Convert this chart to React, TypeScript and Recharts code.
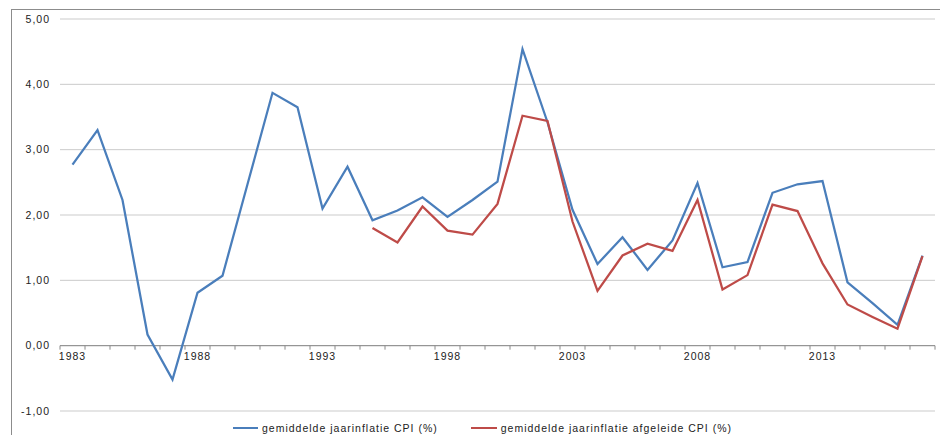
import React from 'react';
import {
    LineChart,
    Line,
    XAxis,
    YAxis,
    CartesianGrid,
    ReferenceLine,
    Legend
} from 'recharts';

const years = [
    '1983', '1984', '1985', '1986', '1987', '1988', '1989', '1990', '1991', '1992',
    '1993', '1994', '1995', '1996', '1997', '1998', '1999', '2000', '2001', '2002',
    '2003', '2004', '2005', '2006', '2007', '2008', '2009', '2010', '2011', '2012',
    '2013', '2014', '2015', '2016', '2017'
];

const cpi = [
    2.77, 3.30, 2.23, 0.17, -0.52, 0.81, 1.07, 2.47, 3.87, 3.65,
    2.10, 2.74, 1.92, 2.07, 2.27, 1.97, 2.23, 2.51, 4.54, 3.42,
    2.08, 1.25, 1.66, 1.16, 1.61, 2.49, 1.20, 1.28, 2.34, 2.47,
    2.52, 0.97, 0.65, 0.32, 1.38
];

const derivedCpi = [
    null, null, null, null, null, null, null, null, null, null,
    null, null, 1.80, 1.58, 2.13, 1.76, 1.70, 2.17, 3.52, 3.44,
    1.90, 0.84, 1.38, 1.56, 1.45, 2.23, 0.86, 1.08, 2.16, 2.06,
    1.26, 0.63, 0.44, 0.26, 1.37
];

const yTicks = [-1, 0, 1, 2, 3, 4, 5];

const cpiLabel = 'gemiddelde jaarinflatie CPI (%)';
const derivedLabel = 'gemiddelde jaarinflatie afgeleide CPI (%)';

const BLUE = '#4a7ebb';
const RED = '#be4b48';

const W = 940;
const H = 435;
const TOP = 19;
const BOTTOM = 24;
const Y_MIN = -1;
const Y_MAX = 5;
const BAND = 25;
// the category axis sits on the 0 line, as in the Excel original
const zeroY = TOP + ((H - TOP - BOTTOM) * Y_MAX) / (Y_MAX - Y_MIN);

const font = '"Liberation Sans", Arial, sans-serif';

const chartData = years.map((y, i) => ({
    year: y,
    cpi: cpi[i],
    derived: derivedCpi[i]
}));

const YearTick = (props: any) => {
    const { x, index, payload } = props;
    const last = index === years.length - 1;
    return (
        <g>
            <line x1={x - BAND / 2} x2={x - BAND / 2} y1={zeroY} y2={zeroY + 4} stroke="#8a8a8a" />
            {last && <line x1={x + BAND / 2} x2={x + BAND / 2} y1={zeroY} y2={zeroY + 4} stroke="#8a8a8a" />}
            {index % 5 === 0 && (
                <text
                    x={x}
                    y={zeroY + 14}
                    textAnchor="middle"
                    fill="#222"
                    style={{ fontFamily: font, fontSize: 10.5, letterSpacing: 1 }}
                >
                    {payload.value}
                </text>
            )}
        </g>
    );
};

const LegendContent = () => (
    <div style={{ display: 'flex', alignItems: 'center', fontFamily: font, fontSize: 10.5, letterSpacing: 1, color: '#222' }}>
        <span style={{ display: 'inline-block', width: 25, height: 2, background: BLUE, marginRight: 4 }} />
        <span>{cpiLabel}</span>
        <span style={{ display: 'inline-block', width: 26, height: 2, background: RED, marginLeft: 33, marginRight: 4 }} />
        <span>{derivedLabel}</span>
    </div>
);

export default function App() {
    return (
        <div style={{ position: 'fixed', left: 0, top: 0, width: W, height: H, background: '#fff', overflow: 'hidden' }}>
            <div
                style={{
                    position: 'absolute',
                    left: 11,
                    top: 9,
                    width: W,
                    height: H,
                    borderLeft: '1px solid #8c8c8c',
                    borderTop: '1px solid #8c8c8c'
                }}
            />
            <LineChart
                width={W}
                height={H}
                data={chartData}
                margin={{ top: TOP, right: 5, left: 0, bottom: 0 }}
                style={{ position: 'absolute', left: 0, top: 0 }}
            >
                <CartesianGrid horizontal vertical={false} stroke="#cbcbcb" />
                <XAxis
                    dataKey="year"
                    interval={0}
                    height={BOTTOM}
                    axisLine={false}
                    tickLine={false}
                    padding={{ left: BAND / 2, right: BAND / 2 }}
                    tick={<YearTick />}
                />
                <YAxis
                    width={60}
                    domain={[Y_MIN, Y_MAX]}
                    ticks={yTicks}
                    axisLine={false}
                    tickLine={false}
                    tickMargin={4}
                    tick={{ fill: '#222', fontSize: 10.5, fontFamily: font, letterSpacing: 1 } as any}
                    tickFormatter={(v: number) => v.toFixed(2).replace('.', ',')}
                />
                <ReferenceLine y={0} stroke="#8a8a8a" />
                <Legend
                    verticalAlign="middle"
                    align="center"
                    layout="horizontal"
                    wrapperStyle={{ left: 233, top: 422, width: 560, height: 16 }}
                    content={<LegendContent />}
                />
                <Line
                    type="linear"
                    dataKey="cpi"
                    name={cpiLabel}
                    stroke={BLUE}
                    strokeWidth={2.25}
                    dot={false}
                    isAnimationActive={false}
                />
                <Line
                    type="linear"
                    dataKey="derived"
                    name={derivedLabel}
                    stroke={RED}
                    strokeWidth={2.25}
                    dot={false}
                    isAnimationActive={false}
                />
            </LineChart>
        </div>
    );
}
